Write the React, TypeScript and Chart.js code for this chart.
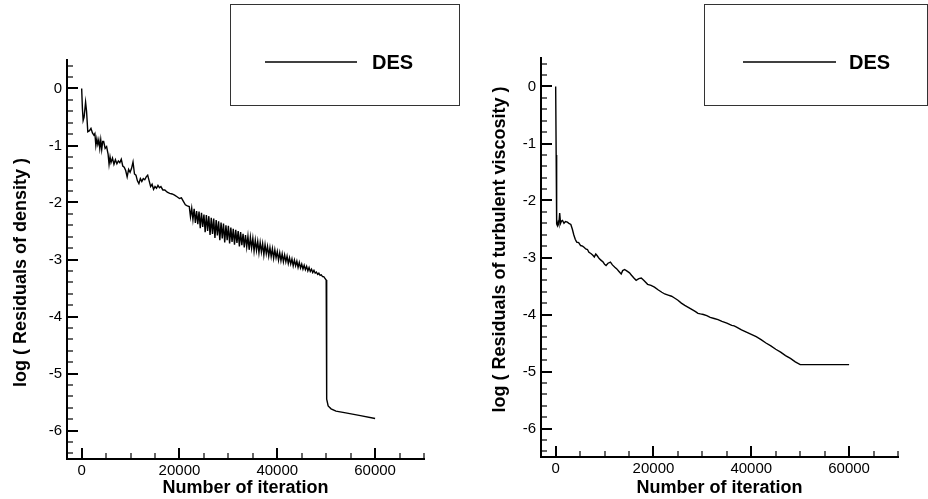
import { useEffect, useRef } from "react";
import { Chart, registerables } from "chart.js";

Chart.register(...registerables);

const FONT = "'Liberation Sans', Arial, Helvetica, sans-serif";

// Residual of density (log10) against iteration number
const densityIter = [
  0, 150, 300, 500, 800, 1000, 1250, 1600, 1900, 2200, 2500, 2700, 2900, 3100, 3300, 3500, 3700, 3900, 4100, 4300,
  4500, 4800, 5100, 5400, 5600, 5800, 6000, 6300, 6600, 6900, 7200, 7500, 7800, 8100, 8400, 8700, 9000, 9300, 9600,
  9900, 10200, 10500, 10800, 11100, 11400, 11700, 12000, 12300, 12600, 12900, 13200, 13500, 13800, 14100, 14400,
  14700, 15000, 15300, 15600, 15900, 16200, 16600, 17000, 17500, 18000, 18500, 19000, 19500, 20000, 20400, 20800,
  21200, 21600,
  22000, 22250, 22500, 22750, 23000, 23250, 23500, 23750, 24000, 24250, 24500, 24750, 25000, 25250, 25500, 25750,
  26000, 26250, 26500, 26750, 27000, 27250, 27500, 27750, 28000, 28250, 28500, 28750, 29000, 29250, 29500, 29750,
  30000, 30250, 30500, 30750, 31000, 31250, 31500, 31750, 32000, 32250, 32500, 32750, 33000, 33250, 33500, 33750,
  34000, 34250, 34500, 34750, 35000, 35250, 35500, 35750, 36000, 36250, 36500, 36750, 37000, 37250, 37500, 37750,
  38000, 38250, 38500, 38750, 39000, 39250, 39500, 39750, 40000, 40250, 40500, 40750, 41000, 41250, 41500, 41750,
  42000, 42250, 42500, 42750, 43000, 43250, 43500, 43750, 44000, 44250, 44500, 44750, 45000, 45250, 45500, 45750,
  46000, 46250, 46500, 46750, 47000, 47250, 47500, 47750, 48000, 48250, 48500, 48750, 49000, 49250, 49500, 49750,
  50000, 50050, 50150, 50400, 51000, 52000, 54000, 57000, 60000,
];
const densityLog = [
  0, -0.35, -0.56, -0.5, -0.24, -0.4, -0.76, -0.74, -0.7, -0.78, -0.82, -0.79, -1.0, -0.88, -0.98, -0.9, -1.05, -0.9,
  -1.07, -0.93, -0.93, -1.05, -1.02, -1.15, -1.33, -1.2, -1.3, -1.22, -1.33, -1.25, -1.32, -1.27, -1.3, -1.24, -1.36,
  -1.38, -1.44, -1.55, -1.42, -1.47, -1.4, -1.29, -1.5, -1.52, -1.62, -1.67, -1.58, -1.63, -1.58, -1.6, -1.55, -1.52,
  -1.62, -1.72, -1.68, -1.77, -1.72, -1.75, -1.7, -1.74, -1.72, -1.78, -1.78, -1.82, -1.84, -1.85, -1.87, -1.9,
  -1.93, -1.92, -1.98, -2.04, -2.06,
  -2.07, -2.25, -2.1, -2.3, -2.11, -2.36, -2.15, -2.38, -2.16, -2.45, -2.18, -2.43, -2.21, -2.52, -2.22, -2.5,
  -2.24, -2.57, -2.27, -2.55, -2.28, -2.62, -2.31, -2.58, -2.33, -2.66, -2.35, -2.63, -2.37, -2.7, -2.4, -2.66,
  -2.41, -2.72, -2.44, -2.69, -2.46, -2.74, -2.48, -2.71, -2.5, -2.77, -2.52, -2.75, -2.55, -2.79, -2.57, -2.78,
  -2.59, -2.83, -2.61, -2.8, -2.63, -2.85, -2.66, -2.84, -2.68, -2.88, -2.7, -2.87, -2.72, -2.92, -2.74, -2.9,
  -2.77, -2.94, -2.79, -2.95, -2.81, -2.98, -2.83, -2.97, -2.86, -3.01, -2.88, -3.02, -2.9, -3.04, -2.92, -3.04,
  -2.94, -3.07, -2.97, -3.08, -2.99, -3.11, -3.01, -3.11, -3.03, -3.14, -3.05, -3.15, -3.08, -3.17, -3.1, -3.18,
  -3.12, -3.2, -3.14, -3.21, -3.17, -3.23, -3.19, -3.24, -3.22, -3.26, -3.24, -3.28, -3.27, -3.3, -3.3, -3.33,
  -3.36, -3.38, -5.45, -5.57, -5.62, -5.66, -5.69, -5.74, -5.79,
];

// Residual of turbulent viscosity (log10) against iteration number
const viscIter = [
  0, 100, 200, 350, 500, 650, 820, 1000, 1200, 1400, 1700, 2000, 2400, 2700, 3100, 3400, 3700, 4000, 4300, 4700, 5100,
  5500, 5800, 6150, 6500, 6800, 7200, 7600, 7900, 8200, 8500, 8900, 9300, 9700, 10000, 10300, 10700, 11200, 11600,
  12100, 12500, 12900, 13400, 13700, 14100, 14600, 15100, 15500, 16000, 16450, 17000, 17500, 18000, 18800, 19500,
  20200, 21000, 21700, 22300, 23000, 23700, 24300, 25000, 25700, 26400, 27200, 28000, 28600, 29100, 29600, 30200,
  30900, 31600, 32400, 33200, 34000, 35000, 36000, 36500, 37000, 38000, 39000, 40000, 41000, 42000, 43000, 44000,
  45000, 46000, 47000, 48000, 49000, 50000, 60000,
];
const viscLog = [
  0, -1.2, -2.41, -2.44, -2.38, -2.42, -2.22, -2.4, -2.36, -2.35, -2.4, -2.37, -2.38, -2.4, -2.42, -2.5, -2.6, -2.68,
  -2.73, -2.74, -2.79, -2.8, -2.82, -2.85, -2.86, -2.91, -2.93, -2.96, -2.99, -2.94, -2.97, -3.02, -3.05, -3.08, -3.12,
  -3.14, -3.1, -3.08, -3.13, -3.17, -3.2, -3.24, -3.29, -3.23, -3.21, -3.24, -3.27, -3.31, -3.36, -3.4, -3.37, -3.36,
  -3.4, -3.47, -3.49, -3.52, -3.57, -3.61, -3.64, -3.66, -3.68, -3.71, -3.75, -3.8, -3.84, -3.88, -3.92, -3.95, -3.98,
  -3.99, -4.0, -4.02, -4.05, -4.07, -4.09, -4.12, -4.15, -4.19, -4.2, -4.22, -4.27, -4.31, -4.35, -4.39, -4.44, -4.5,
  -4.55, -4.61, -4.66, -4.72, -4.77, -4.83, -4.88, -4.88,
];

const xTickValues = [0, 20000, 40000, 60000];
const yTickValues = [0, -1, -2, -3, -4, -5, -6];
const X_MIN = -3000;
const X_MAX = 70000;
const Y_MIN = -6.5;
const Y_MAX = 0.5;

// Tick marks pointing into the plot, majors longer than minors
const inwardTicks = {
  id: "inwardTicks",
  afterDraw(chart: any) {
    const { ctx, chartArea } = chart;
    const xs = chart.scales.x;
    const ys = chart.scales.y;
    ctx.save();
    ctx.strokeStyle = "#000";
    for (let v = 0; v <= X_MAX; v += 5000) {
      const major = v % 20000 === 0;
      const px = Math.round(xs.getPixelForValue(v));
      ctx.lineWidth = major ? 2 : 1.2;
      ctx.beginPath();
      ctx.moveTo(px, chartArea.bottom);
      ctx.lineTo(px, chartArea.bottom - (major ? 11 : 6));
      ctx.stroke();
    }
    for (let i = -32; i <= 2; i++) {
      const v = i / 5;
      const major = i % 5 === 0;
      const py = Math.round(ys.getPixelForValue(v));
      ctx.lineWidth = major ? 2 : 1.2;
      ctx.beginPath();
      ctx.moveTo(chartArea.left, py);
      ctx.lineTo(chartArea.left + (major ? 11 : 6), py);
      ctx.stroke();
    }
    ctx.restore();
  },
};

// Rotated y-axis title, placed beside the tick labels
const yAxisTitle = {
  id: "yAxisTitle",
  afterDraw(chart: any, _args: any, opts: any) {
    const { ctx, chartArea } = chart;
    const cy = (chartArea.top + chartArea.bottom) / 2 + opts.dy;
    ctx.save();
    ctx.translate(opts.x, cy);
    ctx.rotate(-Math.PI / 2);
    ctx.fillStyle = "#000";
    ctx.font = `bold 18px ${FONT}`;
    ctx.textAlign = "center";
    ctx.textBaseline = "middle";
    ctx.fillText(opts.text, 0, 0);
    ctx.restore();
  },
};

// Framed legend with a line sample and the series name
const boxedLegend = {
  id: "boxedLegend",
  afterDraw(chart: any, _args: any, opts: any) {
    const { ctx } = chart;
    const ds = chart.data.datasets[0];
    ctx.save();
    ctx.strokeStyle = "#333";
    ctx.lineWidth = 1;
    ctx.strokeRect(opts.x + 0.5, opts.y + 0.5, opts.w, opts.h);
    ctx.strokeStyle = ds.borderColor;
    ctx.lineWidth = 1.5;
    ctx.beginPath();
    ctx.moveTo(opts.lineX1, opts.lineY);
    ctx.lineTo(opts.lineX2, opts.lineY);
    ctx.stroke();
    ctx.fillStyle = "#000";
    ctx.font = `bold 20px ${FONT}`;
    ctx.textBaseline = "alphabetic";
    ctx.fillText(ds.label, opts.textX, opts.textY);
    ctx.restore();
  },
};

type Geometry = {
  padTop: number;
  padRight: number;
  yWidth: number;
  xHeight: number;
};

function ResidualChart(props: {
  iters: number[];
  values: number[];
  label: string;
  yTitle: any;
  left: number;
  geo: Geometry;
  legend: any;
}) {
  const ref = useRef<HTMLCanvasElement>(null);
  useEffect(() => {
    if (!ref.current) return;
    const { geo } = props;
    const points = props.iters.map((x, i) => ({ x, y: props.values[i] }));
    const chart = new Chart(ref.current, {
      type: "line",
      data: {
        datasets: [
          {
            label: props.label,
            data: points,
            borderColor: "#000",
            borderWidth: 1.4,
            pointRadius: 0,
            tension: 0,
            fill: false,
          },
        ],
      },
      options: {
        responsive: false,
        animation: false,
        devicePixelRatio: 1,
        layout: { padding: { top: geo.padTop, right: geo.padRight, left: 0, bottom: 0 } },
        plugins: {
          legend: { display: false },
          tooltip: { enabled: false },
          boxedLegend: props.legend,
          yAxisTitle: props.yTitle,
        } as any,
        scales: {
          x: {
            type: "linear",
            min: X_MIN,
            max: X_MAX,
            afterBuildTicks: (s: any) => {
              s.ticks = xTickValues.map((value) => ({ value }));
            },
            afterFit: (s: any) => {
              s.height = geo.xHeight;
            },
            grid: { display: false, drawTicks: false },
            border: { display: true, color: "#000", width: 2 },
            ticks: {
              color: "#000",
              font: { family: FONT, size: 15 },
              padding: 3,
              maxRotation: 0,
              autoSkip: false,
              callback: (v: any) => String(v),
            },
            title: {
              display: true,
              text: "Number of iteration",
              color: "#000",
              font: { family: FONT, size: 18, weight: "bold" },
              padding: { top: 0, bottom: 0 },
            },
          },
          y: {
            type: "linear",
            min: Y_MIN,
            max: Y_MAX,
            afterBuildTicks: (s: any) => {
              s.ticks = yTickValues.map((value) => ({ value }));
            },
            afterFit: (s: any) => {
              s.width = geo.yWidth;
            },
            grid: { display: false, drawTicks: false },
            border: { display: true, color: "#000", width: 2 },
            ticks: {
              color: "#000",
              font: { family: FONT, size: 15 },
              padding: 5,
              autoSkip: false,
              callback: (v: any) => String(v),
            },
            title: { display: false },
          },
        },
      },
      plugins: [inwardTicks, boxedLegend, yAxisTitle],
    });
    return () => chart.destroy();
  }, []);
  return (
    <canvas
      ref={ref}
      width={464}
      height={499}
      style={{ position: "absolute", left: props.left, top: 0, width: 464, height: 499 }}
    />
  );
}

export default function App() {
  return (
    <div
      style={{
        position: "fixed",
        left: 0,
        top: 0,
        width: 928,
        height: 499,
        background: "#fff",
        overflow: "hidden",
      }}
    >
      <ResidualChart
        iters={densityIter}
        values={densityLog}
        label="DES"
        yTitle={{ text: "log ( Residuals of density )", x: 21, dy: 13 }}
        left={0}
        geo={{ padTop: 60, padRight: 40, yWidth: 67, xHeight: 40 }}
        legend={{ x: 230, y: 4, w: 229, h: 101, lineX1: 265, lineX2: 357, lineY: 62, textX: 372, textY: 69 }}
      />
      <ResidualChart
        iters={viscIter}
        values={viscLog}
        label="DES"
        yTitle={{ text: "log ( Residuals of turbulent viscosity )", x: 36, dy: -8 }}
        left={464}
        geo={{ padTop: 58, padRight: 30, yWidth: 77, xHeight: 42 }}
        legend={{ x: 240, y: 4, w: 223, h: 101, lineX1: 279, lineX2: 372, lineY: 62, textX: 385, textY: 69 }}
      />
    </div>
  );
}
